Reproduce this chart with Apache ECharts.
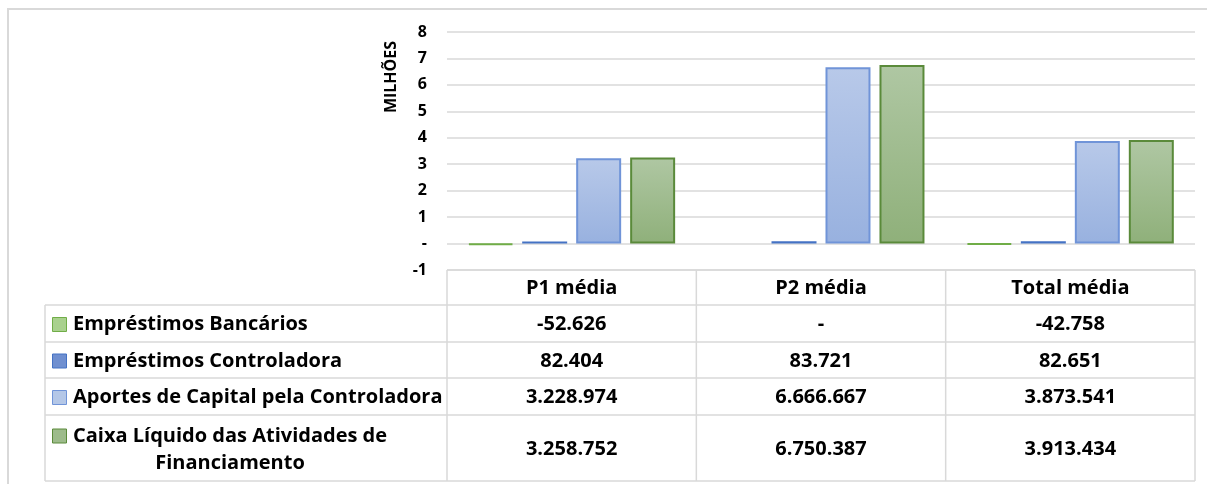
<!DOCTYPE html>
<html><head><meta charset="utf-8">
<script src="https://cdn.jsdelivr.net/npm/echarts@6/dist/echarts.min.js"></script>
<style>html,body{margin:0;padding:0;background:#fff}#c{width:1207px;height:484px}</style>
</head><body><div id="c"></div>
<script>
// ---- data ----
const categories = ['P1 média', 'P2 média', 'Total média'];
const seriesNames = ['Empréstimos Bancários', 'Empréstimos Controladora', 'Aportes de Capital pela Controladora', 'Caixa Líquido das Atividades de Financiamento'];
const emprestimosBancarios = [-52626, 0, -42758];
const emprestimosControladora = [82404, 83721, 82651];
const aportesCapital = [3228974, 6666667, 3873541];
const caixaLiquido = [3258752, 6750387, 3913434];
const yMin = -1000000, yMax = 8000000, yStep = 1000000;

const seriesData = [emprestimosBancarios, emprestimosControladora, aportesCapital, caixaLiquido];

// ---- styles ----
const FONT = '"Open Sans"';
const styles = [
  { fill: '#a9d18e', border: '#70ad47', key: '#a9d18e', keyBorder: '#70ad47' },
  { fill: '#4472c4', border: '#4472c4', key: '#6f8fd0', keyBorder: '#4472c4' },
  { fill: new echarts.graphic.LinearGradient(0, 0, 0, 1, [{ offset: 0, color: '#b8c9e9' }, { offset: 1, color: '#98b1df' }]), border: '#7094d8', key: '#b4c7e7', keyBorder: '#7094d8' },
  { fill: new echarts.graphic.LinearGradient(0, 0, 0, 1, [{ offset: 0, color: '#afc7a3' }, { offset: 1, color: '#8fb07a' }]), border: '#5a8a3a', key: '#9dbb8b', keyBorder: '#5a8a3a' }
];

function fmt(v) {
  if (v === 0) return '-';
  const s = Math.abs(Math.round(v)).toString().replace(/\B(?=(\d{3})+(?!\d))/g, '.');
  return (v < 0 ? '-' : '') + s;
}

const chart = echarts.init(document.getElementById('c'), null, { renderer: 'canvas' });
const gridTop = 32, gridBottomY = 270, gridLeft = 447, gridRight = 12;

chart.setOption({
  animation: false,
  backgroundColor: '#fff',
  grid: { left: gridLeft, right: gridRight, top: gridTop, bottom: 484 - gridBottomY },
  xAxis: {
    type: 'category', data: categories,
    axisLine: { show: false }, axisTick: { show: false }, axisLabel: { show: false }
  },
  yAxis: {
    type: 'value', min: yMin, max: yMax, interval: yStep,
    axisLine: { show: false }, axisTick: { show: false },
    splitLine: { show: true, lineStyle: { color: '#d9d9d9', width: 1.5 } },
    axisLabel: {
      margin: 20, color: '#000', fontFamily: FONT, fontWeight: 'bold', fontSize: 16,
      formatter: v => (v === 0 ? '-' : String(v / 1e6))
    }
  },
  series: seriesData.map((d, i) => ({
    type: 'bar', name: seriesNames[i], data: d.map(v => (v === 0 ? '-' : v)),
    barGap: '20%', barCategoryGap: '17%',
    itemStyle: { color: styles[i].fill, borderColor: styles[i].border, borderWidth: 2 }
  }))
});

// ---- data table & decorations ----
const c0 = chart.convertToPixel({ xAxisIndex: 0 }, 0);
const c1 = chart.convertToPixel({ xAxisIndex: 0 }, 1);
const colW = c1 - c0;
const colCenters = categories.map((_, i) => chart.convertToPixel({ xAxisIndex: 0 }, i));
const tableLeft = 45;
const colLeft = colCenters[0] - colW / 2;
const colRight = colCenters[categories.length - 1] + colW / 2;
const rowY = [270, 305, 342, 378, 415, 481];
const lineColor = '#d9d9d9';
const TS = 20;
const g = [];

function hline(x1, x2, y) { g.push({ type: 'line', silent: true, shape: { x1, y1: y, x2, y2: y }, style: { stroke: lineColor, lineWidth: 1.5 } }); }
function vline(x, y1, y2) { g.push({ type: 'line', silent: true, shape: { x1: x, y1, x2: x, y2 }, style: { stroke: lineColor, lineWidth: 1.5 } }); }
function text(t, x, y, align, size) {
  g.push({ type: 'text', silent: true, x, y, style: { text: t, fill: '#000', font: 'bold ' + (size || TS) + 'px ' + FONT, align: align || 'center', verticalAlign: 'middle' } });
}
function key(r, yc) {
  g.push({ type: 'rect', silent: true, shape: { x: 52.5, y: yc - 7, width: 14, height: 14 }, style: { fill: styles[r].key, stroke: styles[r].keyBorder, lineWidth: 1 } });
}

// outer frame
g.push({ type: 'rect', silent: true, shape: { x: 8, y: 9, width: 1300, height: 600 }, style: { fill: 'none', stroke: '#d9d9d9', lineWidth: 2 } });

// table lines
hline(colLeft, colRight, rowY[0]);
for (let r = 1; r < rowY.length; r++) hline(tableLeft, colRight, rowY[r]);
vline(tableLeft, rowY[1], rowY[rowY.length - 1]);
for (let k = 0; k <= categories.length; k++) vline(colLeft + k * colW, rowY[0], rowY[rowY.length - 1]);

// header text
categories.forEach((cat, i) => text(cat, colCenters[i], (rowY[0] + rowY[1]) / 2 + 1));

// rows
seriesNames.forEach((name, r) => {
  const yMid = (rowY[r + 1] + rowY[r + 2]) / 2;
  if (r === 3) {
    key(r, yMid - 12);
    text('Caixa Líquido das Atividades de', 73, yMid - 12, 'left');
    text('Financiamento', 230, yMid + 15, 'center');
  } else {
    key(r, yMid + 1);
    text(name, 73, yMid + 1, 'left');
  }
  seriesData[r].forEach((v, i) => text(fmt(v), colCenters[i], yMid + 1));
});

// axis unit title
g.push({ type: 'text', silent: true, x: 391, y: 77, rotation: Math.PI / 2, style: { text: 'MILHÕES', fill: '#000', font: 'bold 16px ' + FONT, align: 'center', verticalAlign: 'middle' } });

chart.setOption({ graphic: g });
</script></body></html>
